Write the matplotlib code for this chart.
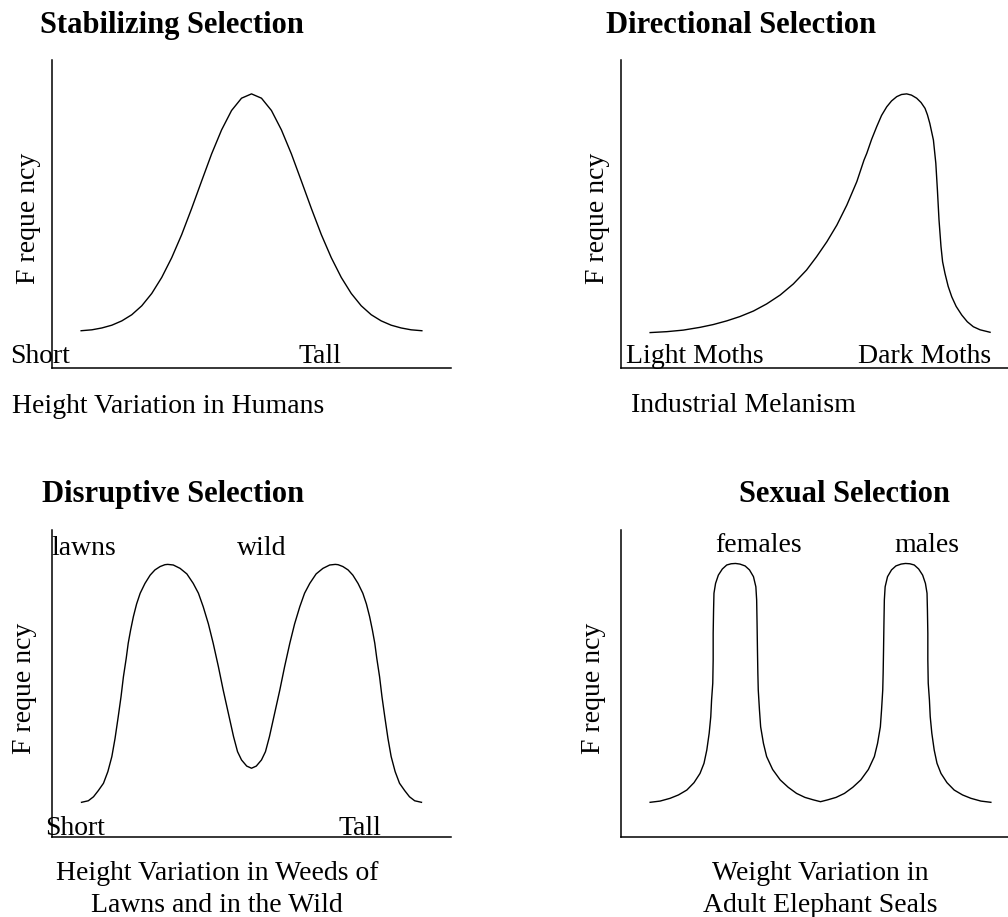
import matplotlib
matplotlib.use("Agg")
import matplotlib.pyplot as plt

plt.rcParams['font.family'] = ['Liberation Serif', 'DejaVu Serif']

# values (trait 0-10, frequency 0-10)
stab_x = [0.73, 1.0, 1.25, 1.5, 1.75, 2.0, 2.25, 2.5, 2.75, 3.0, 3.25, 3.5,
          3.75, 4.0, 4.25, 4.5, 4.75, 5.0, 5.25, 5.5, 5.75, 6.0, 6.25, 6.5,
          6.75, 7.0, 7.25, 7.5, 7.75, 8.0, 8.25, 8.5, 8.75, 9.0, 9.27]
stab_y = [1.21, 1.24, 1.30, 1.39, 1.53, 1.73, 2.02, 2.42, 2.94, 3.58, 4.33, 5.18,
          6.07, 6.95, 7.73, 8.36, 8.76, 8.90, 8.76, 8.36, 7.73, 6.95, 6.07, 5.18,
          4.33, 3.58, 2.94, 2.42, 2.02, 1.73, 1.53, 1.39, 1.30, 1.24, 1.21]

dir_x = [0.73, 1.15, 1.56, 1.98, 2.31, 2.65, 2.98, 3.32, 3.65, 3.99, 4.32, 4.65,
         4.90, 5.16, 5.41, 5.66, 5.91, 6.09, 6.16, 6.28, 6.41, 6.53, 6.66, 6.78,
         6.91, 7.03, 7.16, 7.28, 7.41, 7.52, 7.62, 7.68, 7.74, 7.83, 7.89, 7.93,
         7.97, 8.02, 8.06, 8.12, 8.20, 8.29, 8.40, 8.54, 8.68, 8.83, 9.0, 9.25]
dir_y = [1.15, 1.18, 1.23, 1.32, 1.41, 1.53, 1.67, 1.85, 2.08, 2.37, 2.73, 3.18,
         3.61, 4.10, 4.64, 5.29, 6.05, 6.75, 6.97, 7.42, 7.84, 8.20, 8.48, 8.67,
         8.81, 8.88, 8.90, 8.86, 8.76, 8.62, 8.43, 8.22, 7.94, 7.40, 6.65, 5.78,
         4.81, 3.94, 3.45, 3.07, 2.65, 2.31, 2.00, 1.72, 1.50, 1.34, 1.24, 1.16]

disr_x = [0.74, 0.91, 1.04, 1.16, 1.29, 1.40, 1.50, 1.58, 1.66, 1.73, 1.79, 1.86,
          1.91, 1.97, 2.04, 2.12, 2.21, 2.33, 2.46, 2.58, 2.71, 2.83, 2.90, 3.04,
          3.21, 3.38, 3.54, 3.67, 3.79, 3.92, 4.04, 4.17, 4.29, 4.42, 4.55, 4.65,
          4.75, 4.88, 5.00,
          5.12, 5.25, 5.35, 5.45, 5.58, 5.71, 5.83, 5.96, 6.08, 6.21, 6.33, 6.46,
          6.62, 6.79, 6.96, 7.10, 7.17, 7.29, 7.42, 7.54, 7.67, 7.79, 7.88, 7.96,
          8.03, 8.09, 8.14, 8.21, 8.27, 8.34, 8.42, 8.50, 8.60, 8.71, 8.84, 8.96,
          9.09, 9.26]
disr_y = [1.13, 1.18, 1.31, 1.51, 1.75, 2.13, 2.62, 3.21, 3.92, 4.57, 5.22, 5.82,
          6.31, 6.74, 7.18, 7.59, 7.94, 8.26, 8.53, 8.70, 8.81, 8.87, 8.88, 8.86,
          8.75, 8.57, 8.26, 7.94, 7.50, 6.94, 6.31, 5.55, 4.79, 4.03, 3.27, 2.78,
          2.51, 2.31, 2.24,
          2.31, 2.51, 2.78, 3.27, 4.03, 4.79, 5.55, 6.31, 6.94, 7.50, 7.94, 8.26,
          8.57, 8.75, 8.86, 8.88, 8.87, 8.81, 8.70, 8.53, 8.26, 7.94, 7.59, 7.18,
          6.74, 6.31, 5.82, 5.22, 4.57, 3.92, 3.21, 2.62, 2.13, 1.75, 1.51, 1.31,
          1.18, 1.13]

sex_x = [0.73, 0.98, 1.23, 1.44, 1.65, 1.83, 1.98, 2.08, 2.15, 2.21, 2.25, 2.27,
         2.30, 2.31, 2.31, 2.32, 2.33, 2.37, 2.44, 2.54, 2.65, 2.76, 2.87, 2.98,
         3.11, 3.22, 3.32, 3.38, 3.40, 3.41, 3.42, 3.43, 3.44, 3.47, 3.50, 3.57,
         3.65, 3.80, 3.99, 4.19, 4.40, 4.61, 4.82, 5.00,
         5.18, 5.39, 5.60, 5.81, 6.01, 6.20, 6.35, 6.43, 6.50, 6.53, 6.56, 6.57,
         6.58, 6.59, 6.60, 6.62, 6.68, 6.78, 6.89, 7.02, 7.13, 7.24, 7.35, 7.46,
         7.56, 7.63, 7.67, 7.68, 7.69, 7.69, 7.70, 7.73, 7.75, 7.79, 7.85, 7.92,
         8.02, 8.17, 8.35, 8.56, 8.77, 9.02, 9.27]
sex_y = [1.13, 1.17, 1.26, 1.37, 1.53, 1.77, 2.07, 2.40, 2.83, 3.38, 3.92, 4.46,
         5.01, 5.77, 6.63, 7.39, 7.94, 8.26, 8.53, 8.73, 8.86, 8.90, 8.91, 8.89,
         8.83, 8.70, 8.48, 8.15, 7.72, 6.96, 6.09, 5.33, 4.79, 4.14, 3.59, 3.05,
         2.62, 2.20, 1.86, 1.62, 1.42, 1.29, 1.21, 1.15,
         1.21, 1.29, 1.42, 1.62, 1.86, 2.20, 2.62, 3.05, 3.59, 4.14, 4.79, 5.33,
         6.09, 6.96, 7.72, 8.15, 8.48, 8.70, 8.83, 8.89, 8.91, 8.90, 8.86, 8.73,
         8.53, 8.26, 7.94, 7.39, 6.63, 5.77, 5.01, 4.46, 3.92, 3.38, 2.83, 2.40,
         2.07, 1.77, 1.53, 1.37, 1.26, 1.17, 1.13]

titles = ["Stabilizing Selection", "Directional Selection",
          "Disruptive Selection", "Sexual Selection"]
ylabel = "F reque ncy"
captions = [["Height Variation in Humans"], ["Industrial Melanism"],
            ["Height Variation in Weeds of", "Lawns and in the Wild"],
            ["Weight Variation in", "Adult Elephant Seals"]]

W, H = 1008, 917
fig = plt.figure(figsize=(W / 100, H / 100), dpi=100)


def make_axes(left, top, width=399, height=308):
    ax = fig.add_axes([left / W, (H - top - height) / H, width / W, height / H])
    ax.set_xlim(0, 10)
    ax.set_ylim(0, 10)
    for s in ("top", "right"):
        ax.spines[s].set_visible(False)
    for s in ("left", "bottom"):
        ax.spines[s].set_linewidth(1.1)
    ax.set_xticks([])
    ax.set_yticks([])
    ax.patch.set_alpha(0)
    return ax


body = 20
tsize = 22
kw = dict(fontsize=body, clip_on=False)

# stabilizing
ax1 = make_axes(52, 60)
ax1.plot(stab_x, stab_y, color="black", lw=1.0)
ax1.text(-0.30, 10.87, titles[0], fontsize=tsize, fontweight="bold")
ax1.text(-0.60, 4.87, ylabel, rotation=90, ha="center", va="center", **kw)
ax1.text(-1.05, 0.17, "Short", **kw)
ax1.text(6.17, 0.17, "Tall", **kw)
ax1.text(-1.01, -1.46, captions[0][0], **kw)

# directional
ax2 = make_axes(621, 60)
ax2.plot(dir_x, dir_y, color="black", lw=1.0)
ax2.text(-0.38, 10.87, titles[1], fontsize=tsize, fontweight="bold")
ax2.text(-0.59, 4.87, ylabel, rotation=90, ha="center", va="center", **kw)
ax2.text(0.12, 0.17, "Light Moths", **kw)
ax2.text(9.27, 0.17, "Dark Moths", ha="right", **kw)
ax2.text(0.24, -1.42, captions[1][0], **kw)

# disruptive
ax3 = make_axes(52, 530, height=307)
ax3.plot(disr_x, disr_y, color="black", lw=1.0)
ax3.text(-0.26, 10.92, titles[2], fontsize=tsize, fontweight="bold")
ax3.text(-0.68, 4.84, ylabel, rotation=90, ha="center", va="center", **kw)
ax3.text(-0.01, 9.19, "lawns", **kw)
ax3.text(4.63, 9.19, "wild", **kw)
ax3.text(-0.18, 0.07, "Short", **kw)
ax3.text(7.18, 0.07, "Tall", **kw)
for i, line in enumerate(captions[2]):
    ax3.text(4.13, -1.40 - 1.03 * i, line, ha="center", **kw)

# sexual
ax4 = make_axes(621, 530, height=307)
ax4.plot(sex_x, sex_y, color="black", lw=1.0)
ax4.text(2.96, 10.92, titles[3], fontsize=tsize, fontweight="bold")
ax4.text(-0.68, 4.84, ylabel, rotation=90, ha="center", va="center", **kw)
ax4.text(2.37, 9.29, "females", **kw)
ax4.text(6.86, 9.29, "males", **kw)
for i, line in enumerate(captions[3]):
    ax4.text(5.0, -1.40 - 1.03 * i, line, ha="center", **kw)

fig.savefig("out.png", dpi=100, facecolor="white")
